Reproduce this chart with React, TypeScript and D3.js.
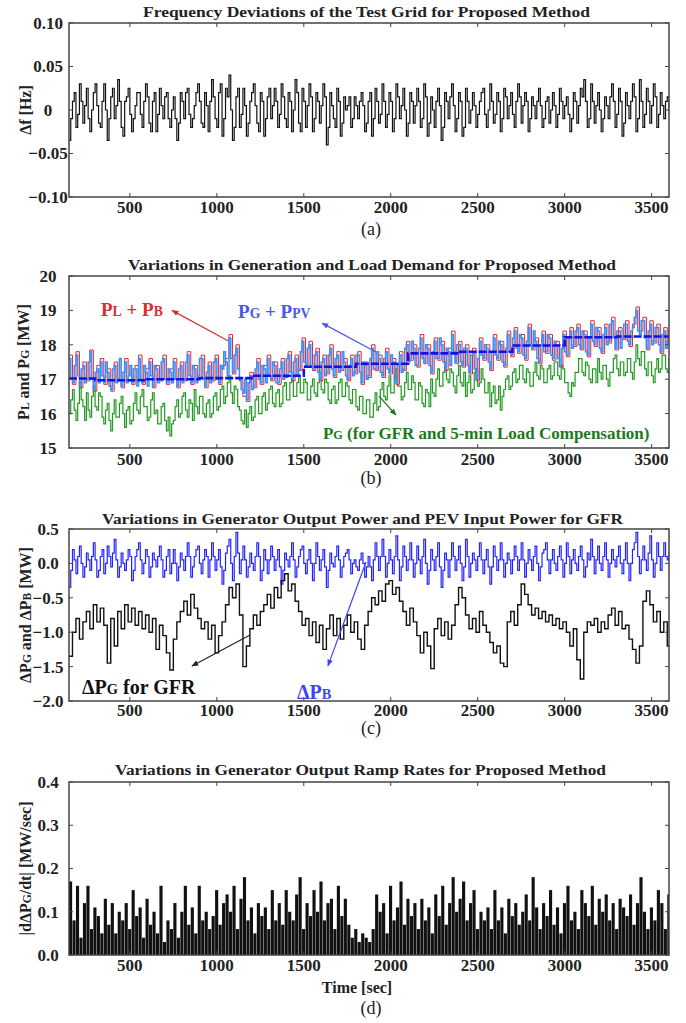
import React from 'react';
import * as d3 from 'd3';

// ---------- data ----------
const T0 = 150;
const DT = 20;      // sampling of slower series [s]
const DT_FINE = 10; // sampling of the fast series [s]
const xTickValues = [500, 1000, 1500, 2000, 2500, 3000, 3500];

// (a) frequency deviation [Hz], every 10 s
const freqDev = [
  -0.035, -0.01, 0.01, 0.02, -0.02, -0.005, 0.03, 0.01, -0.015, 0.005, 0.025, -0.01, -0.025, 0.0, 0.02, 0.03, 0.005, -0.015, -0.02, 0.01,
  0.03, 0.0, -0.035, -0.01, 0.015, 0.025, -0.01, 0.005, 0.035, 0.01, -0.02, -0.03, 0.01, 0.015, 0.025, -0.005, -0.025, -0.01, 0.005, 0.02,
  0.02, -0.005, -0.02, 0.01, 0.03, 0.015, -0.015, -0.025, 0.01, 0.02, -0.025, -0.005, 0.025, 0.005, -0.01, 0.015, 0.02, -0.01, -0.02, 0.0,
  0.015, -0.01, -0.035, -0.015, 0.02, 0.01, -0.01, 0.02, 0.025, -0.005, -0.02, -0.01, 0.005, 0.02, 0.03, 0.01, -0.015, -0.02, 0.02, 0.005,
  -0.025, 0.01, 0.035, 0.015, -0.01, -0.02, 0.02, 0.03, -0.03, -0.01, 0.025, 0.015, 0.04, 0.0, -0.035, -0.02, 0.015, 0.025, -0.02, -0.005,
  0.025, 0.005, -0.03, -0.015, 0.01, 0.02, 0.03, 0.005, -0.015, -0.025, 0.02, 0.01, -0.03, -0.01, 0.015, 0.025, -0.01, 0.005, 0.025, 0.01,
  -0.02, -0.005, 0.03, 0.015, -0.01, -0.02, 0.02, 0.01, -0.025, 0.0, 0.035, 0.02, -0.015, -0.025, 0.025, 0.01, -0.02, 0.005, 0.03, 0.015,
  -0.025, -0.01, 0.02, 0.01, -0.015, 0.005, 0.03, 0.015, -0.04, -0.02, 0.02, 0.005, -0.01, -0.02, 0.025, 0.01, -0.03, -0.015, 0.015, 0.0,
  0.005, 0.015, -0.02, -0.01, 0.015, 0.005, -0.01, 0.01, 0.02, 0.005, -0.025, -0.015, 0.01, 0.02, -0.03, -0.01, 0.025, 0.01, -0.015, -0.005,
  0.03, 0.01, -0.02, -0.005, 0.02, 0.01, -0.025, -0.01, 0.03, 0.015, -0.01, 0.005, 0.025, 0.0, -0.03, -0.015, 0.02, 0.01, -0.015, 0.005,
  0.025, 0.01, -0.02, -0.01, 0.03, 0.015, -0.03, -0.015, 0.015, 0.0, -0.02, 0.01, 0.025, 0.005, -0.035, -0.02, 0.02, 0.01, -0.01, 0.015,
  0.03, 0.005, -0.025, -0.01, 0.02, 0.01, -0.03, -0.02, 0.025, 0.01, -0.015, 0.0, 0.02, 0.005, -0.02, -0.005, 0.01, 0.02, 0.025, -0.005,
  -0.02, 0.0, 0.03, 0.01, -0.015, -0.005, 0.02, 0.01, -0.025, -0.01, 0.025, 0.015, -0.01, 0.005, 0.02, -0.005, -0.02, 0.01, 0.03, 0.015,
  -0.015, 0.005, 0.02, 0.01, -0.025, -0.01, 0.015, 0.005, -0.01, 0.01, 0.025, 0.005, -0.02, -0.01, 0.01, 0.015, -0.015, 0.0, 0.02, 0.005,
  -0.02, -0.005, 0.025, 0.01, -0.01, 0.005, 0.015, -0.005, -0.025, -0.01, 0.02, 0.01, -0.015, 0.005, 0.025, 0.015, 0.035, 0.01, -0.02, -0.01,
  0.03, 0.01, -0.015, 0.005, 0.02, 0.0, -0.025, -0.01, 0.015, 0.005, -0.01, 0.015, 0.03, 0.01, -0.02, -0.005, 0.025, 0.01, -0.03, -0.015,
  0.02, 0.005, -0.01, 0.01, 0.03, 0.015, -0.025, -0.01, 0.035, 0.01, -0.02, -0.005, 0.025, 0.01, -0.015, 0.005, 0.03, 0.015, -0.02, -0.005,
  0.02, 0.005, -0.01, 0.01, 0.015, 0.0,
];

// (b) PL + PB [MW], every 20 s
const loadPlusBattery = [
  17.7, 16.85, 17.8, 16.75, 17.5, 16.95, 17.85, 16.65, 17.4, 17.6,
  16.85, 17.3, 16.65, 17.5, 16.95, 16.75, 17.6, 17.15, 16.85, 17.4,
  17.7, 16.85, 17.3, 17.6, 16.75, 17.4, 16.95, 17.7, 16.85, 17.3,
  17.6, 16.75, 17.5, 16.95, 17.8, 16.85, 17.4, 17.05, 17.7, 16.75,
  17.5, 16.95, 17.7, 16.85, 17.4, 17.6, 18.3, 17.15, 18.0, 16.95,
  16.5, 16.35, 17.2, 16.75, 17.6, 16.85, 17.4, 17.7, 16.95, 17.5,
  16.85, 17.6, 17.05, 17.8, 16.95, 17.7, 17.25, 18.2, 17.35, 18.1,
  17.25, 17.9, 16.95, 17.7, 17.15, 18.0, 17.05, 17.8, 17.25, 17.6,
  16.95, 17.7, 17.15, 17.8, 16.85, 17.5, 17.05, 18.0, 17.25, 17.7,
  17.05, 17.9, 17.15, 17.6, 16.85, 17.8, 17.25, 18.1, 17.55, 18.0,
  17.35, 18.3, 17.45, 18.0, 17.15, 18.2, 17.55, 18.1, 17.25, 17.9,
  18.4, 17.45, 18.1, 17.35, 18.0, 17.15, 17.9, 16.95, 18.2, 17.55,
  18.0, 17.25, 18.3, 17.55, 18.1, 17.35, 18.4, 17.65, 18.5, 17.75,
  18.3, 17.55, 18.6, 17.85, 18.2, 17.45, 18.4, 17.75, 18.3, 17.55,
  18.1, 17.35, 18.4, 17.65, 18.5, 17.95, 18.6, 17.85, 18.4, 17.65,
  18.7, 17.95, 18.5, 17.75, 18.6, 18.05, 18.8, 17.85, 18.5, 18.15,
  18.7, 17.95, 18.6, 19.1, 18.4, 18.8, 17.85, 18.7, 18.05, 18.6,
  17.75, 18.5, 18.05,
];

// (b) PG + PPV [MW], every 10 s
const genPlusPv = [
  17.6, 17.0, 16.9, 17.4, 17.7, 17.1, 16.8, 17.3, 17.4, 16.9, 17.0, 17.5, 17.8, 17.0, 16.7, 17.2, 17.3, 16.9, 17.5, 17.1,
  16.9, 17.5, 17.2, 16.8, 16.7, 17.3, 17.4, 16.9, 17.0, 17.6, 16.8, 17.2, 17.5, 16.9, 17.1, 17.4, 16.9, 17.3, 17.3, 16.8,
  17.6, 17.0, 16.9, 17.4, 17.2, 16.8, 17.5, 17.1, 16.8, 17.4, 17.3, 16.9, 17.0, 17.5, 17.6, 17.0, 16.9, 17.3, 17.2, 16.9,
  17.5, 17.0, 16.8, 17.3, 17.4, 16.9, 17.0, 17.5, 17.7, 17.1, 16.9, 17.4, 17.3, 16.9, 17.1, 17.6, 17.6, 17.0, 16.8, 17.2,
  17.4, 16.9, 17.0, 17.5, 17.6, 17.0, 16.9, 17.4, 17.3, 17.8, 17.5, 17.1, 18.2, 17.6, 17.2, 17.7, 17.9, 17.3, 17.0, 16.7,
  16.6, 17.0, 16.4, 16.9, 17.1, 16.7, 16.8, 17.3, 17.5, 17.0, 16.9, 17.4, 17.3, 16.9, 17.6, 17.1, 17.0, 17.5, 17.4, 16.9,
  16.9, 17.3, 17.5, 17.0, 17.1, 17.6, 17.7, 17.2, 17.0, 17.5, 17.6, 17.1, 17.3, 17.8, 18.1, 17.5, 17.4, 17.9, 18.0, 17.4,
  17.3, 17.7, 17.8, 17.2, 17.0, 17.5, 17.6, 17.1, 17.2, 17.7, 17.9, 17.3, 17.1, 17.6, 17.7, 17.2, 17.3, 17.8, 17.5, 17.1,
  17.0, 17.4, 17.6, 17.1, 17.2, 17.7, 17.7, 17.2, 16.9, 17.5, 17.4, 17.0, 17.1, 17.6, 17.9, 17.3, 17.3, 17.8, 17.6, 17.2,
  17.1, 17.6, 17.8, 17.3, 17.2, 17.7, 17.5, 17.0, 16.9, 17.4, 17.7, 17.2, 17.3, 17.9, 18.0, 17.5, 17.6, 18.1, 17.9, 17.4,
  17.4, 17.9, 18.2, 17.6, 17.5, 18.0, 17.9, 17.4, 17.2, 17.8, 18.1, 17.6, 17.6, 18.2, 18.0, 17.5, 17.3, 17.9, 17.8, 17.4,
  18.3, 17.8, 17.5, 18.0, 18.0, 17.5, 17.4, 17.9, 17.9, 17.4, 17.2, 17.7, 17.8, 17.3, 17.0, 17.6, 18.1, 17.7, 17.6, 18.0,
  17.9, 17.5, 17.3, 17.8, 18.2, 17.7, 17.6, 18.1, 18.0, 17.5, 17.4, 17.9, 18.3, 17.8, 17.7, 18.2, 18.4, 17.9, 17.8, 18.3,
  18.2, 17.7, 17.6, 18.1, 18.5, 18.0, 17.9, 18.4, 18.1, 17.6, 17.5, 18.0, 18.3, 17.8, 17.8, 18.3, 18.2, 17.7, 17.6, 18.1,
  18.0, 17.6, 17.4, 17.9, 18.3, 17.8, 17.7, 18.2, 18.4, 17.9, 18.0, 18.4, 18.5, 18.0, 17.9, 18.4, 18.3, 17.8, 17.7, 18.2,
  18.6, 18.1, 18.0, 18.5, 18.4, 17.9, 17.8, 18.3, 18.5, 18.0, 18.1, 18.6, 18.7, 18.2, 17.9, 18.4, 18.4, 17.9, 18.2, 18.6,
  18.6, 18.1, 18.0, 18.4, 18.5, 18.8, 19.0, 18.4, 18.3, 18.7, 18.7, 18.2, 17.9, 18.4, 18.6, 18.0, 18.1, 18.5, 18.5, 18.0,
  17.8, 18.3, 18.4, 17.9, 18.1, 18.4,
];

// (b) PG for GFR and 5-min load compensation [MW], every 10 s
const genOnly = [
  16.0, 16.4, 16.7, 16.1, 15.8, 16.3, 16.9, 16.4, 16.2, 15.8, 16.6, 16.1, 15.9, 16.5, 16.8, 16.2, 16.1, 16.6, 16.5, 15.9,
  15.7, 16.1, 16.3, 15.8, 15.5, 16.0, 16.4, 15.9, 15.9, 16.3, 16.5, 16.0, 15.6, 16.1, 16.2, 15.7, 15.8, 16.3, 16.6, 16.1,
  16.0, 16.5, 16.7, 16.2, 16.2, 15.8, 15.9, 16.4, 16.6, 16.0, 16.1, 15.7, 15.7, 16.2, 16.3, 15.8, 15.5, 15.9, 15.35, 15.7,
  15.8, 16.2, 16.4, 15.9, 16.0, 16.5, 16.6, 16.1, 15.9, 16.4, 16.3, 15.8, 16.7, 16.2, 16.0, 16.5, 16.5, 16.0, 15.9, 16.3,
  16.4, 15.9, 16.0, 16.5, 16.6, 16.1, 16.2, 16.7, 16.8, 16.3, 16.5, 16.9, 17.1, 16.6, 16.3, 16.8, 16.7, 16.2, 16.1, 15.8,
  15.7, 16.1, 15.6, 16.0, 16.2, 15.8, 15.9, 16.4, 16.5, 16.0, 16.0, 16.5, 16.6, 16.1, 16.3, 16.7, 16.8, 16.3, 16.2, 16.6,
  16.7, 16.2, 16.3, 16.8, 16.9, 16.4, 16.4, 16.9, 17.0, 16.5, 16.5, 16.9, 17.1, 16.6, 16.6, 17.0, 16.9, 16.4, 16.4, 16.8,
  17.0, 16.6, 16.5, 16.9, 17.2, 16.7, 16.6, 17.0, 16.9, 16.4, 16.3, 16.7, 16.8, 16.3, 16.4, 16.9, 17.0, 16.5, 16.5, 16.9,
  16.8, 16.4, 16.3, 16.7, 16.7, 16.2, 16.1, 16.5, 16.5, 16.0, 16.0, 16.4, 16.4, 15.9, 15.9, 16.3, 16.6, 16.1, 16.2, 16.7,
  16.9, 16.5, 16.4, 16.8, 17.1, 16.6, 16.6, 17.0, 17.3, 16.8, 16.8, 16.4, 16.5, 16.9, 17.2, 16.7, 16.7, 17.1, 16.9, 16.4,
  16.4, 16.9, 16.8, 16.3, 16.2, 16.7, 16.6, 16.2, 17.0, 16.6, 16.5, 17.0, 17.3, 16.8, 16.8, 17.2, 17.5, 17.0, 16.9, 17.3,
  17.2, 16.8, 16.6, 17.1, 17.4, 16.9, 16.8, 17.2, 16.5, 16.9, 17.1, 16.6, 16.7, 17.2, 17.3, 16.8, 16.9, 17.3, 17.0, 16.6,
  16.6, 16.9, 16.2, 16.6, 16.8, 16.3, 16.4, 16.8, 16.1, 16.5, 16.7, 17.0, 17.1, 16.7, 16.8, 17.2, 17.3, 16.9, 17.0, 17.4,
  17.4, 17.0, 16.9, 17.3, 17.2, 16.8, 16.8, 17.2, 17.5, 17.1, 17.0, 17.4, 17.3, 16.9, 16.9, 17.3, 17.4, 17.0, 17.1, 17.5,
  17.5, 17.1, 17.0, 17.4, 17.3, 16.9, 16.9, 16.6, 16.5, 16.9, 16.8, 17.2, 17.2, 17.6, 17.6, 17.2, 17.1, 17.5, 17.4, 17.0,
  16.9, 17.3, 17.3, 16.9, 17.6, 17.2, 17.0, 17.4, 17.4, 17.0, 16.8, 17.2, 17.2, 17.6, 17.7, 17.3, 17.1, 17.5, 17.5, 17.1,
  17.2, 17.6, 17.6, 17.2, 17.0, 17.5, 18.0, 17.6, 17.4, 17.8, 17.8, 17.3, 17.1, 17.5, 17.5, 17.1, 16.9, 17.3, 17.6, 17.2,
  17.3, 17.7, 17.7, 17.3, 17.2, 17.6,
];

// (b) 5-minute compensation level [MW]
const fiveMinStart = [150, 300, 600, 900, 1200, 1500, 1800, 2100, 2400, 2700, 3000, 3300, 3600];
const fiveMinLevel = [17.02, 16.97, 17.0, 17.03, 17.1, 17.36, 17.45, 17.75, 17.8, 17.98, 18.22, 18.24, 18.24];

// (c) ΔPB [MW], every 10 s
const deltaPB = [
  -0.35, -0.1, 0.2, 0.05, -0.15, 0.1, 0.25, 0.0, -0.2, -0.05, 0.15, 0.05, -0.1, 0.1, 0.3, 0.05, -0.2, -0.1, 0.1, 0.2,
  -0.15, 0.0, 0.25, 0.1, -0.05, 0.15, 0.35, 0.05, -0.2, -0.05, 0.15, 0.0, -0.1, 0.05, 0.2, 0.1, -0.25, -0.1, 0.1, 0.2,
  0.3, 0.05, -0.15, 0.0, 0.2, 0.1, -0.2, -0.05, 0.15, 0.05, -0.05, 0.1, 0.25, 0.05, -0.2, -0.1, 0.1, 0.2, -0.15, 0.0,
  0.2, 0.0, -0.25, -0.05, 0.15, 0.05, -0.1, 0.1, 0.3, 0.1, -0.2, -0.05, 0.1, 0.2, 0.25, 0.0, -0.15, 0.05, 0.2, 0.1,
  -0.2, 0.05, 0.3, 0.1, -0.1, 0.05, 0.2, -0.05, -0.3, -0.1, 0.15, 0.25, 0.35, 0.0, -0.25, 0.1, 0.45, 0.15, -0.15, 0.05,
  0.25, 0.05, -0.2, -0.05, 0.15, 0.0, -0.1, 0.1, 0.3, 0.1, -0.25, -0.1, 0.2, 0.05, -0.15, 0.05, 0.25, 0.1, -0.1, 0.05,
  0.2, -0.05, -0.3, -0.1, 0.15, 0.05, -0.05, 0.1, 0.3, 0.05, -0.2, -0.05, 0.1, 0.2, 0.25, 0.0, -0.15, 0.05, 0.2, 0.0,
  -0.25, 0.0, 0.3, 0.1, -0.1, 0.05, 0.2, -0.05, -0.35, -0.1, 0.15, 0.0, -0.05, 0.1, 0.25, 0.05, -0.2, -0.05, 0.1, 0.15,
  0.2, 0.05, -0.15, 0.0, 0.05, -0.05, -0.1, 0.05, 0.15, 0.0, -0.2, -0.05, 0.1, -0.05, -0.25, 0.05, 0.3, 0.1, -0.1, 0.1,
  0.35, 0.1, -0.2, 0.0, 0.2, 0.05, -0.15, 0.1, 0.4, 0.05, -0.25, -0.05, 0.25, 0.1, -0.1, 0.05, 0.3, 0.05, -0.2, 0.0,
  0.25, 0.05, -0.15, 0.1, 0.35, 0.0, -0.3, -0.1, 0.2, 0.05, -0.1, 0.1, 0.3, -0.05, -0.35, -0.1, 0.15, 0.05, -0.2, 0.05,
  0.3, 0.1, -0.1, 0.05, 0.25, 0.0, -0.25, -0.05, 0.35, 0.1, -0.2, 0.0, 0.15, 0.05, -0.1, 0.1, 0.3, 0.05, -0.15, 0.05,
  0.2, -0.05, -0.3, -0.05, 0.25, 0.1, -0.1, 0.05, 0.3, 0.05, -0.2, 0.0, 0.15, 0.05, -0.15, 0.05, 0.25, 0.1, -0.1, 0.05,
  0.3, 0.05, -0.2, 0.0, 0.2, 0.05, -0.1, 0.1, 0.25, 0.0, -0.25, -0.05, 0.15, 0.2, 0.3, 0.05, -0.15, 0.05, 0.2, 0.0,
  -0.1, 0.1, 0.25, 0.05, -0.2, 0.0, 0.3, 0.1, -0.15, 0.05, 0.2, 0.0, -0.1, 0.1, 0.25, 0.05, -0.2, -0.05, 0.15, 0.05,
  0.35, 0.1, -0.15, 0.05, 0.25, 0.0, -0.1, 0.1, 0.3, 0.05, -0.2, 0.0, 0.2, 0.05, -0.05, 0.1, 0.25, 0.0, -0.15, 0.05,
  0.3, 0.0, -0.25, 0.0, 0.2, 0.3, 0.45, 0.1, -0.15, 0.05, 0.25, 0.05, -0.1, 0.15, 0.4, 0.05, -0.2, 0.0, 0.3, 0.1,
  -0.1, 0.1, 0.3, 0.1, 0.05, 0.15,
];

// (c) ΔPG for GFR [MW], every 20 s
const deltaPG = [
  -1.35, -1.0, -0.8, -1.1, -0.85, -0.7, -0.95, -0.6, -0.85, -0.65,
  -0.9, -1.45, -0.8, -1.2, -0.7, -0.95, -0.6, -0.85, -0.65, -0.9,
  -0.7, -0.95, -0.75, -1.0, -0.8, -1.25, -0.9, -1.05, -1.3, -1.55,
  -1.1, -0.85, -0.7, -0.55, -0.75, -0.45, -0.65, -0.8, -0.95, -0.85,
  -1.1, -0.9, -1.3, -1.05, -0.85, -0.6, -0.35, -0.5, -0.3, -0.75,
  -1.5, -1.2, -0.95, -0.75, -0.9, -0.7, -0.6, -0.45, -0.65, -0.35,
  -0.5, -0.25, -0.15, -0.4, -0.3, -0.55, -0.7, -0.9, -0.8, -1.05,
  -0.85, -1.15, -0.9, -1.25, -0.95, -0.75, -1.05, -0.8, -1.1, -0.9,
  -0.75, -1.0, -0.85, -1.1, -1.25, -0.9, -0.7, -0.5, -0.6, -0.4,
  -0.55, -0.3, -0.25, -0.45, -0.35, -0.55, -0.7, -0.9, -0.65, -0.85,
  -1.05, -1.3, -1.0, -1.2, -1.53, -0.95, -0.8, -1.05, -0.85, -1.1,
  -0.9, -0.6, -0.35, -0.5, -0.75, -0.95, -0.8, -1.0, -0.7, -0.9,
  -1.0, -1.15, -1.3, -1.2, -1.45, -1.5, -0.85, -0.7, -0.9, -0.6,
  -0.3, -0.45, -0.6, -0.75, -0.65, -0.8, -0.7, -0.85, -0.75, -0.9,
  -0.8, -0.95, -0.85, -1.0, -1.2, -0.95, -1.4, -1.68, -1.0, -0.85,
  -0.9, -0.8, -1.0, -0.85, -0.95, -0.75, -0.65, -0.9, -0.7, -0.95,
  -0.9, -1.1, -1.25, -1.45, -1.2, -0.55, -0.4, -0.6, -0.85, -0.7,
  -1.0, -0.85, -1.2,
];

// (d) |dΔPG/dt| [MW/sec], every 20 s
const rampRate = [
  0.17, 0.08, 0.16, 0.04, 0.12, 0.16, 0.06, 0.11, 0.09, 0.05,
  0.13, 0.07, 0.12, 0.05, 0.10, 0.08, 0.12, 0.06, 0.15, 0.09,
  0.11, 0.04, 0.13, 0.07, 0.10, 0.05, 0.16, 0.03, 0.08, 0.06,
  0.12, 0.04, 0.10, 0.16, 0.07, 0.11, 0.05, 0.16, 0.08, 0.10,
  0.06, 0.09, 0.15, 0.07, 0.12, 0.14, 0.10, 0.16, 0.06, 0.13,
  0.18, 0.08, 0.11, 0.05, 0.12, 0.09, 0.11, 0.06, 0.15, 0.08,
  0.12, 0.07, 0.15, 0.10, 0.08, 0.14, 0.18, 0.06, 0.12, 0.09,
  0.15, 0.10, 0.17, 0.08, 0.12, 0.13, 0.06, 0.16, 0.09, 0.13,
  0.07, 0.04, 0.06, 0.03, 0.05, 0.04, 0.03, 0.06, 0.14, 0.10,
  0.12, 0.05, 0.16, 0.08, 0.11, 0.17, 0.07, 0.13, 0.09, 0.12,
  0.06, 0.13, 0.08, 0.11, 0.05, 0.14, 0.09, 0.16, 0.07, 0.12,
  0.18, 0.10, 0.13, 0.17, 0.08, 0.12, 0.15, 0.06, 0.10, 0.08,
  0.11, 0.06, 0.15, 0.08, 0.11, 0.05, 0.13, 0.09, 0.12, 0.07,
  0.10, 0.14, 0.08, 0.18, 0.11, 0.06, 0.12, 0.09, 0.15, 0.07,
  0.11, 0.05, 0.12, 0.16, 0.08, 0.10, 0.06, 0.15, 0.12, 0.09,
  0.16, 0.07, 0.13, 0.10, 0.14, 0.08, 0.12, 0.06, 0.13, 0.11,
  0.09, 0.14, 0.07, 0.12, 0.18, 0.10, 0.06, 0.11, 0.08, 0.15,
  0.12, 0.06, 0.14,
];

// ---------- layout ----------
const W = 686;
const H = 1023;
const FONT = "'Liberation Serif', 'DejaVu Serif', serif";
const x = d3.scaleLinear().domain([150, 3600]).range([69, 669]);

type Seg = [string, boolean?];

function Rich({ segs, size, small = 0.72, ...rest }: any) {
  return (
    <text fontWeight="bold" fontSize={size} style={{ fontFamily: FONT }} {...rest}>
      {segs.map((s: Seg, i: number) => (
        <tspan key={i} fontSize={s[1] ? size * small : size}>{s[0]}</tspan>
      ))}
    </text>
  );
}

interface PanelSpec {
  id: string;
  top: number;
  bottom: number;
  domain: [number, number];
  yTicks: number[];
  yFmt: (v: number) => string;
  title: string;
  titleX: number;
  titleY: number;
  titleLen: number;
  tickLabelY: number;
  yLabel: Seg[];
  yLabelX: number;
  letter: string;
  letterY: number;
}

const panels: PanelSpec[] = [
  {
    id: 'a', top: 23, bottom: 197, domain: [-0.1, 0.1],
    yTicks: [-0.1, -0.05, 0, 0.05, 0.1],
    yFmt: (v) => (v === 0 ? '0' : d3.format('.2f')(v)),
    title: 'Frequency Deviations of the Test Grid for Proposed Method', titleX: 366.5, titleY: 12, titleLen: 447,
    tickLabelY: 207, yLabel: [['Δf [Hz]']], yLabelX: 25, letter: '(a)', letterY: 229,
  },
  {
    id: 'b', top: 276, bottom: 448, domain: [15, 20],
    yTicks: [15, 16, 17, 18, 19, 20],
    yFmt: (v) => d3.format('d')(v),
    title: 'Variations in Generation and Load Demand for Proposed Method', titleX: 372, titleY: 265, titleLen: 488,
    tickLabelY: 459, yLabel: [['P'], ['L', true], [' and P'], ['G', true], [' [MW]']], yLabelX: 23, letter: '(b)', letterY: 478,
  },
  {
    id: 'c', top: 529, bottom: 701, domain: [-2, 0.5],
    yTicks: [-2, -1.5, -1, -0.5, 0, 0.5],
    yFmt: (v) => d3.format('.1f')(v),
    title: 'Variations in Generator Output Power and PEV Input Power for GFR', titleX: 362.5, titleY: 519, titleLen: 521,
    tickLabelY: 710, yLabel: [['ΔP'], ['G', true], [' and ΔP'], ['B', true], [' [MW]']], yLabelX: 25, letter: '(c)', letterY: 728,
  },
  {
    id: 'd', top: 782, bottom: 955, domain: [0, 0.4],
    yTicks: [0, 0.1, 0.2, 0.3, 0.4],
    yFmt: (v) => d3.format('.1f')(v),
    title: 'Variations in Generator Output Ramp Rates for Proposed Method', titleX: 360.5, titleY: 770, titleLen: 491,
    tickLabelY: 965, yLabel: [['|dΔP'], ['G', true], ['/dt|  [MW/sec]']], yLabelX: 25, letter: '(d)', letterY: 1008,
  },
];

function tracePath(values: number[], y: d3.ScaleLinear<number, number>, dt: number) {
  const ext = [...values, values[values.length - 1]];
  return d3.line<number>()
    .x((_, i) => x(T0 + i * dt))
    .y((d) => y(d))
    .curve(d3.curveStepAfter)(ext) || '';
}

function Frame({ p, y }: { p: PanelSpec; y: d3.ScaleLinear<number, number> }) {
  const tl = 4;
  const txt = { fontFamily: FONT };
  return (
    <g>
      {xTickValues.map((t) => (
        <g key={'x' + t} stroke="#444" strokeWidth={1}>
          <line x1={x(t)} x2={x(t)} y1={p.bottom} y2={p.bottom - tl} />
          <line x1={x(t)} x2={x(t)} y1={p.top} y2={p.top + tl} />
        </g>
      ))}
      {p.yTicks.map((v) => (
        <g key={'y' + v} stroke="#444" strokeWidth={1}>
          <line x1={x.range()[0]} x2={x.range()[0] + tl} y1={y(v)} y2={y(v)} />
          <line x1={x.range()[1]} x2={x.range()[1] - tl} y1={y(v)} y2={y(v)} />
        </g>
      ))}
      <rect x={x.range()[0]} y={p.top} width={x.range()[1] - x.range()[0]} height={p.bottom - p.top}
        fill="none" stroke="#444" strokeWidth={1.5} />
      {xTickValues.map((t) => (
        <text key={'xl' + t} x={x(t)} y={p.tickLabelY} dy="0.35em" textAnchor="middle"
          style={txt} fontWeight="bold" fontSize={17} fill="#222">{t}</text>
      ))}
      {p.yTicks.map((v) => (
        <text key={'yl' + v} x={48} y={y(v)} dy="0.35em" textAnchor="middle"
          style={txt} fontWeight="bold" fontSize={17} fill="#222">{p.yFmt(v)}</text>
      ))}
      <text x={p.titleX} y={p.titleY} dy="0.35em" textAnchor="middle" style={txt}
        fontWeight="bold" fontSize={15.5} fill="#222" textLength={p.titleLen}
        lengthAdjust="spacingAndGlyphs">{p.title}</text>
      <Rich segs={p.yLabel} size={16} fill="#222" textAnchor="middle" dy="0.35em"
        transform={`translate(${p.yLabelX},${(p.top + p.bottom) / 2}) rotate(-90)`} />
      <text x={371} y={p.letterY} dy="0.35em" textAnchor="middle" style={txt}
        fontSize={18} fill="#222">{p.letter}</text>
    </g>
  );
}

export default function App() {
  const [pa, pb, pc, pd] = panels;
  const ya = d3.scaleLinear().domain(pa.domain).range([pa.bottom, pa.top]);
  const yb = d3.scaleLinear().domain(pb.domain).range([pb.bottom, pb.top]);
  const yc = d3.scaleLinear().domain(pc.domain).range([pc.bottom, pc.top]);
  const yd = d3.scaleLinear().domain(pd.domain).range([pd.bottom, pd.top]);

  const fiveMinPath = d3.line<number>()
    .x((_, i) => x(fiveMinStart[i]))
    .y((d) => yb(d))
    .curve(d3.curveStepAfter)(fiveMinLevel) || '';

  const barW = (x(T0 + DT) - x(T0)) * 0.9;

  const clip = (p: PanelSpec) => (
    <clipPath id={'clip-' + p.id}>
      <rect x={x.range()[0]} y={p.top} width={x.range()[1] - x.range()[0]} height={p.bottom - p.top} />
    </clipPath>
  );

  const marker = (id: string, color: string) => (
    <marker id={id} viewBox="0 0 10 10" refX={9} refY={5} markerWidth={7} markerHeight={7}
      orient="auto" markerUnits="userSpaceOnUse">
      <path d="M0,1 L10,5 L0,9 Z" fill={color} />
    </marker>
  );

  return (
    <svg width={W} height={H} viewBox={`0 0 ${W} ${H}`}
      style={{ position: 'absolute', left: 0, top: 0, background: '#fff' }}>
      <defs>
        {panels.map((p) => <React.Fragment key={p.id}>{clip(p)}</React.Fragment>)}
        {marker('arr-red', '#d8302f')}
        {marker('arr-blue', '#4b55f0')}
        {marker('arr-green', '#1c7a1c')}
        {marker('arr-black', '#222')}
        {marker('arr-blue2', '#3a46f5')}
      </defs>
      <rect x={0} y={0} width={W} height={H} fill="#fff" />

      {/* (a) */}
      <g clipPath="url(#clip-a)">
        <path d={tracePath(freqDev, ya, DT_FINE)} fill="none" stroke="#111" strokeWidth={1.2} />
      </g>
      <Frame p={pa} y={ya} />

      {/* (b) */}
      <g clipPath="url(#clip-b)">
        <path d={tracePath(genOnly, yb, DT_FINE)} fill="none" stroke="#239a23" strokeWidth={1.2} />
        <path d={tracePath(loadPlusBattery, yb, DT)} fill="none" stroke="#e8262a" strokeWidth={1.0} />
        <path d={tracePath(genPlusPv, yb, DT_FINE)} fill="none" stroke="#3d8cf8" strokeWidth={1.5} />
        <path d={fiveMinPath} fill="none" stroke="#1212e6" strokeWidth={2.6} strokeDasharray="8 2" />
      </g>
      <Frame p={pb} y={yb} />
      <Rich segs={[['P'], ['L', true], [' + P'], ['B', true]]} size={19} fill="#d8302f" x={x(334)} y={yb(18.84)} />
      <line x1={x(1064)} y1={yb(18.12)} x2={x(742)} y2={yb(19.0)} stroke="#d8302f" strokeWidth={1.2} markerEnd="url(#arr-red)" />
      <Rich segs={[['P'], ['G', true], [' + P'], ['PV', true]]} size={19} fill="#4b55f0" x={x(1122)} y={yb(18.78)} />
      <line x1={x(1915)} y1={yb(17.79)} x2={x(1605)} y2={yb(18.63)} stroke="#4b55f0" strokeWidth={1.2} markerEnd="url(#arr-blue)" />
      <Rich segs={[['P'], ['G', true], [' (for GFR and 5-min Load Compensation)']]} size={17} fill="#1c7a1c" x={x(1610)} y={yb(15.26)} />
      <line x1={x(1933)} y1={yb(16.51)} x2={x(2030)} y2={yb(15.96)} stroke="#1c7a1c" strokeWidth={1.2} markerEnd="url(#arr-green)" />

      {/* (c) */}
      <g clipPath="url(#clip-c)">
        <path d={tracePath(deltaPB, yc, DT_FINE)} fill="none" stroke="#2323ff" strokeWidth={1.2} />
        <path d={tracePath(deltaPG, yc, DT)} fill="none" stroke="#111" strokeWidth={1.4} />
      </g>
      <Frame p={pc} y={yc} />
      <Rich segs={[['ΔP'], ['G', true], [' for GFR']]} size={20} fill="#111" x={x(225)} y={yc(-1.9)} />
      <line x1={x(1191)} y1={yc(-1.04)} x2={x(857)} y2={yc(-1.49)} stroke="#222" strokeWidth={1.2} markerEnd="url(#arr-black)" />
      <Rich segs={[['ΔP'], ['B', true]]} size={20} fill="#3a46f5" x={x(1461)} y={yc(-1.97)} />
      <line x1={x(1858)} y1={yc(0.02)} x2={x(1639)} y2={yc(-1.49)} stroke="#3a46f5" strokeWidth={1.2} markerEnd="url(#arr-blue2)" />

      {/* (d) */}
      <g clipPath="url(#clip-d)">
        {rampRate.map((v, i) => (
          <rect key={i} x={x(T0 + i * DT)} y={yd(v)} width={barW} height={yd(0) - yd(v)} fill="#111" />
        ))}
      </g>
      <Frame p={pd} y={yd} />
      <text x={357} y={987} dy="0.35em" textAnchor="middle" style={{ fontFamily: FONT }} fontWeight="bold"
        fontSize={16} fill="#222">Time [sec]</text>
    </svg>
  );
}
